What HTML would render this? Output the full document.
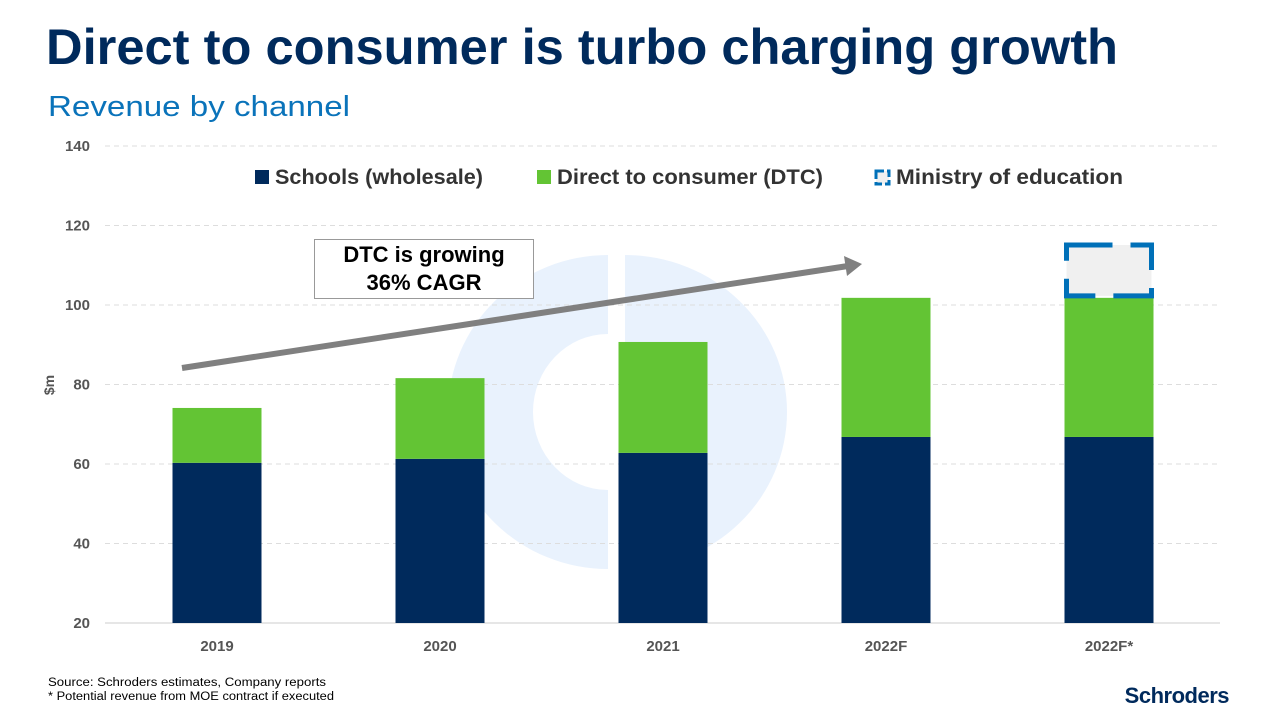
<!DOCTYPE html>
<html><head><meta charset="utf-8"><style>
body{margin:0;width:1272px;height:714px;overflow:hidden;background:#fff;font-family:"Liberation Sans",sans-serif}
svg{position:absolute;left:0;top:0}
</style></head><body>
<svg width="1272" height="714">
<g id="watermark" fill="#e9f2fd">
<path d="M608 255 A160 157 0 0 0 608 569 L608 490 A75 78 0 0 1 608 334 Z"/>
<path d="M625 255 A162 157 0 0 1 625 569 Z"/>
</g>
<text x="46" y="64" font-size="50" font-weight="bold" fill="#002a5c" textLength="1072" lengthAdjust="spacingAndGlyphs">Direct to consumer is turbo charging growth</text>
<text x="48" y="116" font-size="29" fill="#0a73ba" textLength="302" lengthAdjust="spacingAndGlyphs">Revenue by channel</text>
<g id="grid"></g><g id="bars"></g><g id="xlabels"></g>
<text transform="translate(54,385) rotate(-90)" text-anchor="middle" font-size="14" font-weight="bold" fill="#555">$m</text>
<g font-size="21" font-weight="bold" fill="#333">
<rect x="255" y="170" width="14" height="14" fill="#002a5c"/>
<text x="275" y="184" textLength="208" lengthAdjust="spacingAndGlyphs">Schools (wholesale)</text>
<rect x="537" y="170" width="14" height="14" fill="#63c434"/>
<text x="557" y="184" textLength="266" lengthAdjust="spacingAndGlyphs">Direct to consumer (DTC)</text>
<rect x="876" y="171" width="13" height="13" fill="#f0f0f0" stroke="#0070b8" stroke-width="3" stroke-dasharray="8 3"/>
<text x="896" y="184" textLength="227" lengthAdjust="spacingAndGlyphs">Ministry of education</text>
</g>
<line x1="182" y1="368" x2="848" y2="266" stroke="#808080" stroke-width="6"/>
<polygon points="862,264 844,256 847,276" fill="#808080"/>
<rect x="314.5" y="239.5" width="219" height="59" fill="#fff" stroke="#999"/>
<text x="424" y="262" text-anchor="middle" font-size="22" font-weight="bold" fill="#000">DTC is growing</text>
<text x="424" y="290" text-anchor="middle" font-size="22" font-weight="bold" fill="#000">36% CAGR</text>
<text x="48" y="686" font-size="11.5" fill="#000" textLength="278" lengthAdjust="spacingAndGlyphs">Source: Schroders estimates, Company reports</text>
<text x="48" y="700" font-size="11.5" fill="#000" textLength="286" lengthAdjust="spacingAndGlyphs">* Potential revenue from MOE contract if executed</text>
<text x="1229" y="703" text-anchor="end" font-size="22" font-weight="bold" fill="#002a5c" letter-spacing="-0.5">Schroders</text>
</svg>
<script>
const categories=["2019","2020","2021","2022F","2022F*"];
const schools=[60.3,61.3,62.8,66.8,66.8];
const dtc=[13.8,20.3,27.9,35.0,35.0];
const moe=[0,0,0,0,13.8];
const yTicks=[20,40,60,80,100,120,140];
const NS="http://www.w3.org/2000/svg";
const y=v=>623-(v-20)*(477/120);
const xc=i=>217+i*223;
const bw=89;
function mk(t,a,p){const e=document.createElementNS(NS,t);for(const k in a)e.setAttribute(k,a[k]);p.appendChild(e);return e;}
const grid=document.getElementById('grid'),bars=document.getElementById('bars'),xl=document.getElementById('xlabels');
yTicks.forEach(v=>{
 const l=mk('line',{x1:105,x2:1220,y1:y(v),y2:y(v),stroke:v===20?'#ccc':'#ddd','stroke-dasharray':v===20?'':'5 4'},grid);
 
 
 const t=mk('text',{x:90,y:y(v)+5,'text-anchor':'end','font-size':15,'font-weight':'bold',fill:'#555'},grid);
 t.textContent=v;
 
 
});
categories.forEach((c,i)=>{
 const s=schools[i],d=dtc[i],m=moe[i];
 const r1=mk('rect',{x:xc(i)-bw/2,y:y(s),width:bw,height:y(20)-y(s),fill:'#002a5c'},bars);
 
 
 const r2=mk('rect',{x:xc(i)-bw/2,y:y(s+d),width:bw,height:y(s)-y(s+d),fill:'#63c434'},bars);
 
 
 if(m>0){
  const r3=mk('rect',{x:xc(i)-bw/2+2,y:y(s+d+m)+2,width:bw-4,height:y(s+d)-y(s+d+m)-4,fill:'#f0f0f0',stroke:'#0070b8','stroke-width':5,'stroke-dasharray':'46 18'},bars);
  
  
 }
 const t=mk('text',{x:xc(i),y:651,'text-anchor':'middle','font-size':15,'font-weight':'bold',fill:'#555'},xl);
 t.textContent=c;
 
 
});
</script>
</body></html>
